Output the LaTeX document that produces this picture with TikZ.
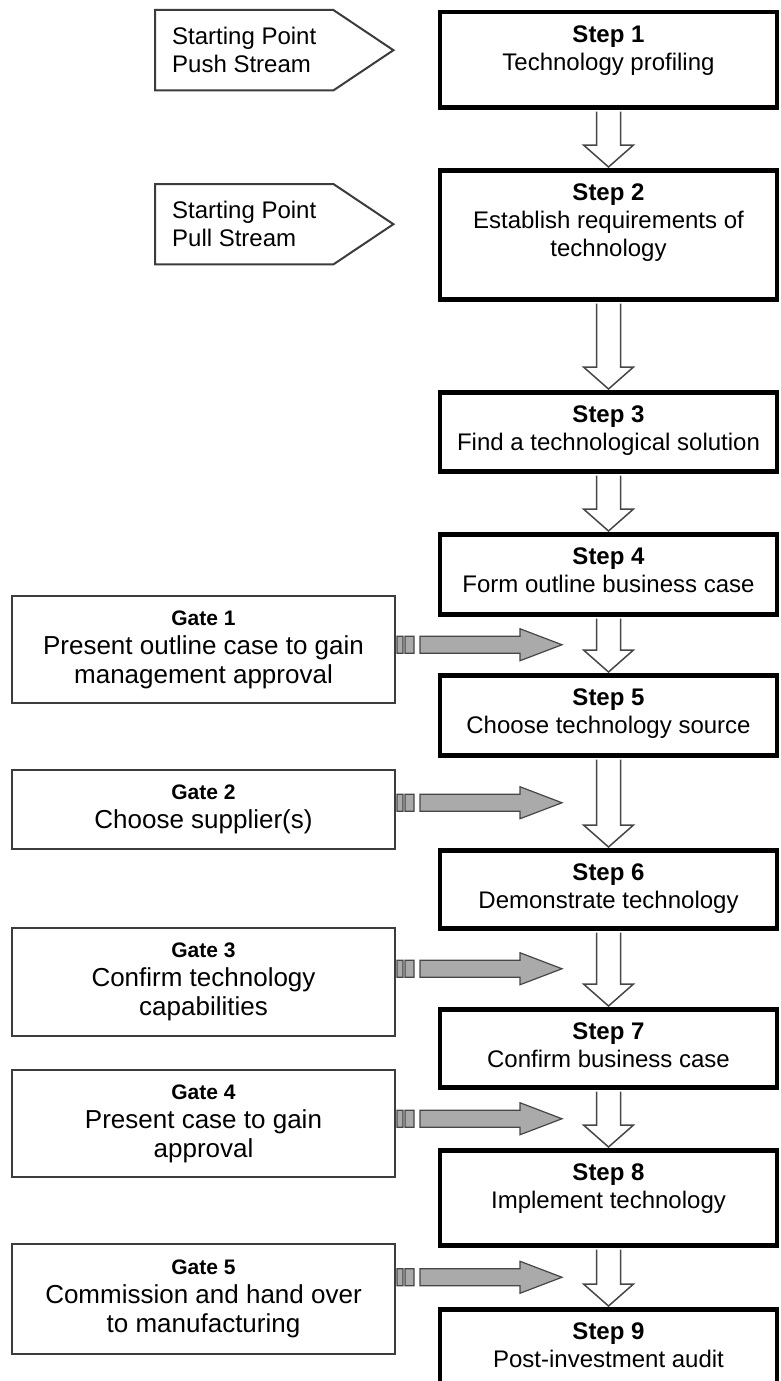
\documentclass[tikz,border=0pt]{standalone}
\usepackage{fontspec}
\setmainfont{Liberation Sans}
\usetikzlibrary{calc}

% block arrow going down from one step to the next
\newcommand{\flowdown}[2]{%
  \draw[downblock] let \p1=(#1.south), \p2=(#2.north) in
    (\x1-12pt,\y1-2pt) -- (\x1-12pt,\y2+23pt) -- (\x1-25pt,\y2+23pt) -- (\x2,\y2+1pt)
    -- (\x1+25pt,\y2+23pt) -- (\x1+12pt,\y2+23pt) -- (\x1+12pt,\y1-2pt);}

% striped grey arrow from a gate towards the flow
\newcommand{\gatearrow}[2]{%
  \path[gatefill] let \p1=(#1.east), \p2=(#2) in
    (\x1+1pt,\y2-8.5pt) rectangle (\x1+7pt,\y2+8.5pt)
    (\x1+9pt,\y2-8.5pt) rectangle (\x1+18pt,\y2+8.5pt)
    (\x1+24pt,\y2+8.5pt) -- (\x2-42pt,\y2+8.5pt) -- (\x2-42pt,\y2+16pt) -- (\x2,\y2)
    -- (\x2-42pt,\y2-16pt) -- (\x2-42pt,\y2-8.5pt) -- (\x1+24pt,\y2-8.5pt) -- cycle;}

\begin{document}
\begin{tikzpicture}[x=1pt, y=-1pt,
  stepbox/.style={draw=black, line width=4.5pt, fill=white, minimum width=337pt, anchor=north, inner sep=0pt},
  steptext/.style={anchor=north, align=center, font=\fontsize{24}{28}\selectfont, inner sep=0pt, yshift=-16pt},
  gatebox/.style={draw=gateline, line width=2pt, minimum width=383pt, anchor=north, align=center, font=\fontsize{26}{29}\selectfont},
  startbox/.style={minimum width=178pt, minimum height=80pt, anchor=north west, inner sep=0pt, align=left, font=\fontsize{24}{28}\selectfont},
  startline/.style={draw=gateline, line width=2pt},
  downblock/.style={draw=arrowline, line width=1.5pt, fill=white},
  gatefill/.style={draw=arrowline, line width=1.2pt, fill=arrowgray}]

% Colors
\definecolor{gateline}{RGB}{60,60,60}    % box edge
\definecolor{arrowline}{RGB}{70,70,70}   % arrow edge
\definecolor{arrowgray}{RGB}{170,170,170} % arrow fill

\useasboundingbox (0,0) rectangle (781,1381);

% === STARTING POINTS ===
\node[startbox] (push) at (155,10) {Starting Point\\Push Stream};
\draw[startline] (push.north west) -- (push.north east) -- ($(push.east)+(60,0)$) -- (push.south east) -- (push.south west) -- cycle;

\node[startbox] (pull) at (155,184) {Starting Point\\Pull Stream};
\draw[startline] (pull.north west) -- (pull.north east) -- ($(pull.east)+(60,0)$) -- (pull.south east) -- (pull.south west) -- cycle;

% === STEPS ===
\node[stepbox, minimum height=95pt] (s1) at (608.5,10) {};
\node[steptext] at (s1.north) {\textbf{Step 1}\\Technology profiling};

\node[stepbox, minimum height=129pt] (s2) at (608.5,168) {};
\node[steptext] at (s2.north) {\textbf{Step 2}\\Establish requirements of\\technology};

\node[stepbox, minimum height=79pt] (s3) at (608.5,390) {};
\node[steptext] at (s3.north) {\textbf{Step 3}\\Find a technological solution};

\node[stepbox, minimum height=80pt] (s4) at (608.5,532) {};
\node[steptext] at (s4.north) {\textbf{Step 4}\\Form outline business case};

\node[stepbox, minimum height=80pt] (s5) at (608.5,673) {};
\node[steptext] at (s5.north) {\textbf{Step 5}\\Choose technology source};

\node[stepbox, minimum height=78pt] (s6) at (608.5,848) {};
\node[steptext] at (s6.north) {\textbf{Step 6}\\Demonstrate technology};

\node[stepbox, minimum height=78pt] (s7) at (608.5,1007) {};
\node[steptext] at (s7.north) {\textbf{Step 7}\\Confirm business case};

\node[stepbox, minimum height=95pt] (s8) at (608.5,1148) {};
\node[steptext] at (s8.north) {\textbf{Step 8}\\Implement technology};

\node[stepbox, minimum height=95pt] (s9) at (608.5,1307) {};
\node[steptext] at (s9.north) {\textbf{Step 9}\\Post-investment audit};

% === Arrows between steps ===
\flowdown{s1}{s2}
\flowdown{s2}{s3}
\flowdown{s3}{s4}
\flowdown{s4}{s5}
\flowdown{s5}{s6}
\flowdown{s6}{s7}
\flowdown{s7}{s8}
\flowdown{s8}{s9}

% === GATES ===
\node[gatebox, minimum height=107pt] (g1) at (203.5,595) {{\fontsize{21}{24}\selectfont\bfseries Gate 1}\\Present outline case to gain\\management approval};
\node[gatebox, minimum height=79pt] (g2) at (203.5,769) {{\fontsize{21}{24}\selectfont\bfseries Gate 2}\\Choose supplier(s)};
\node[gatebox, minimum height=108pt] (g3) at (203.5,927) {{\fontsize{21}{24}\selectfont\bfseries Gate 3}\\Confirm technology\\capabilities};
\node[gatebox, minimum height=107pt] (g4) at (203.5,1069) {{\fontsize{21}{24}\selectfont\bfseries Gate 4}\\Present case to gain\\approval};
\node[gatebox, minimum height=110pt] (g5) at (203.5,1243) {{\fontsize{21}{24}\selectfont\bfseries Gate 5}\\Commission and hand over\\to manufacturing};

% arrow tips sit half way down the step arrows
\coordinate (t1) at ($(s4.south)!0.5!(s5.north)+(-46.5,0)$);
\coordinate (t2) at ($(s5.south)!0.5!(s6.north)+(-46.5,0)$);
\coordinate (t3) at ($(s6.south)!0.5!(s7.north)+(-46.5,0)$);
\coordinate (t4) at ($(s7.south)!0.5!(s8.north)+(-46.5,0)$);
\coordinate (t5) at ($(s8.south)!0.5!(s9.north)+(-46.5,0)$);

\gatearrow{g1}{t1}
\gatearrow{g2}{t2}
\gatearrow{g3}{t3}
\gatearrow{g4}{t4}
\gatearrow{g5}{t5}

\end{tikzpicture}
\end{document}
